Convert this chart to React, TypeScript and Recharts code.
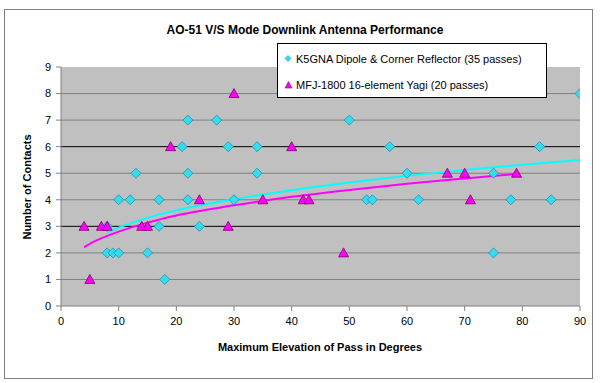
import React from "react"
import {
  ComposedChart,
  Scatter,
  Line,
  XAxis,
  YAxis,
  CartesianGrid,
  ReferenceLine
} from "recharts"

// passes heard with the dipole + corner reflector
const dipoleElev = [8, 9, 10, 15, 18, 8, 10, 12, 17, 13, 17, 21, 22, 22, 22, 27, 29, 34, 34, 30, 24, 50, 57, 60, 53, 54, 62, 90, 83, 75, 78, 85, 75]
const dipoleContacts = [2, 2, 2, 2, 1, 3, 4, 4, 4, 5, 3, 6, 7, 5, 4, 7, 6, 6, 5, 4, 3, 7, 6, 5, 4, 4, 4, 8, 6, 5, 4, 4, 2]

// passes heard with the yagi
const yagiElev = [4, 5, 7, 8, 14, 15, 19, 24, 29, 30, 35, 40, 42, 43, 49, 67, 70, 71, 79]
const yagiContacts = [3, 1, 3, 3, 3, 3, 6, 4, 3, 8, 4, 6, 4, 4, 2, 5, 5, 4, 5]

// trend lines
const dipoleTrendX = [8, 10, 15, 20, 30, 40, 50, 60, 70, 80, 90]
const dipoleTrendY = [2.76, 2.95, 3.32, 3.6, 4.02, 4.36, 4.65, 4.9, 5.12, 5.32, 5.5]
const yagiTrendX = [4, 6, 8, 10, 15, 20, 30, 40, 50, 60, 70, 79]
const yagiTrendY = [2.21, 2.45, 2.64, 2.8, 3.14, 3.41, 3.79, 4.11, 4.37, 4.6, 4.8, 4.97]

const elevTicks = [0, 10, 20, 30, 40, 50, 60, 70, 80, 90]
const contactTicks = [0, 1, 2, 3, 4, 5, 6, 7, 8, 9]
const greyGrid = [1, 2, 4, 5, 7, 8]
const blackGrid = [3, 6]

const dipoleName = "K5GNA Dipole & Corner Reflector (35 passes)"
const yagiName = "MFJ-1800 16-element Yagi (20 passes)"

const toPoints = (xs: number[], ys: number[]) => xs.map((x, i) => ({ x, y: ys[i] }))

const dipoleData = toPoints(dipoleElev, dipoleContacts)
const yagiData = toPoints(yagiElev, yagiContacts)
const dipoleTrend = toPoints(dipoleTrendX, dipoleTrendY)
const yagiTrend = toPoints(yagiTrendX, yagiTrendY)

const font = "'Liberation Sans', Arial, sans-serif"

function Diamond(props: any) {
  const { cx, cy } = props
  const r = 5
  return (
    <polygon
      points={`${cx},${cy - r} ${cx + r},${cy} ${cx},${cy + r} ${cx - r},${cy}`}
      fill="#33DDEE"
      stroke="#2090B0"
      strokeWidth={0.8}
    />
  )
}

function Triangle(props: any) {
  const { cx, cy } = props
  return (
    <polygon
      points={`${cx},${cy - 5} ${cx + 5},${cy + 4} ${cx - 5},${cy + 4}`}
      fill="#FF00FF"
      stroke="#800060"
      strokeWidth={0.8}
    />
  )
}

function LegendBox() {
  return (
    <div
      style={{
        position: "absolute",
        left: 277,
        top: 43,
        width: 270,
        height: 55,
        background: "#fff",
        border: "1px solid #000",
        fontFamily: font,
        fontSize: 11,
        color: "#000",
        boxSizing: "border-box",
        paddingLeft: 6
      }}
    >
      <div style={{ display: "flex", alignItems: "center", height: 28, marginTop: 1 }}>
        <svg width={12} height={10}>
          <polygon points="4,1.5 7,4.5 4,7.5 1,4.5" fill="#33DDEE" stroke="#2090B0" strokeWidth={0.6} />
        </svg>
        <span>{dipoleName}</span>
      </div>
      <div style={{ display: "flex", alignItems: "center", height: 24 }}>
        <svg width={12} height={10}>
          <polygon points="4.5,1.5 8,8 1,8" fill="#FF00FF" stroke="#800060" strokeWidth={0.6} />
        </svg>
        <span>{yagiName}</span>
      </div>
    </div>
  )
}

export default function App() {
  return (
    <div style={{ position: "absolute", left: 0, top: 0, width: 600, height: 383, background: "#fff", fontFamily: font }}>
      <div
        style={{
          position: "absolute",
          left: 4,
          top: 9,
          width: 589,
          height: 370,
          border: "1px solid #808080",
          boxSizing: "border-box"
        }}
      />
      <div
        style={{
          position: "absolute",
          left: 0,
          top: 23,
          width: 610,
          textAlign: "center",
          fontWeight: "bold",
          fontSize: 12
        }}
      >
        AO-51 V/S Mode Downlink Antenna Performance
      </div>

      <ComposedChart
        width={600}
        height={383}
        margin={{ top: 67, right: 20, bottom: 47, left: 31 }}
        style={{ position: "absolute", left: 0, top: 0 }}
      >
        <CartesianGrid
          vertical={false}
          horizontalValues={greyGrid}
          stroke="#808080"
          fill="#C0C0C0"
          fillOpacity={1}
        />
        {blackGrid.map((v) => (
          <ReferenceLine key={v} y={v} stroke="#000" strokeWidth={1} />
        ))}
        <XAxis
          type="number"
          dataKey="x"
          domain={[0, 90]}
          ticks={elevTicks}
          height={30}
          tickSize={5}
          tickMargin={6}
          stroke="#808080"
          tick={{ fill: "#000", fontSize: 11, fontFamily: font }}
          allowDataOverflow
        />
        <YAxis
          type="number"
          domain={[0, 9]}
          ticks={contactTicks}
          width={30}
          tickSize={5}
          tickMargin={5}
          stroke="#808080"
          tick={{ fill: "#000", fontSize: 11, fontFamily: font }}
          allowDataOverflow
        />
        <Line
          data={dipoleTrend}
          dataKey="y"
          type="monotone"
          stroke="#00FFFF"
          strokeWidth={2}
          dot={false}
          isAnimationActive={false}
        />
        <Line
          data={yagiTrend}
          dataKey="y"
          type="monotone"
          stroke="#FF00FF"
          strokeWidth={2}
          dot={false}
          isAnimationActive={false}
        />
        <Scatter name={dipoleName} data={dipoleData} dataKey="y" shape={Diamond} isAnimationActive={false} />
        <Scatter name={yagiName} data={yagiData} dataKey="y" shape={Triangle} isAnimationActive={false} />
      </ComposedChart>

      <LegendBox />

      <div
        style={{
          position: "absolute",
          left: 0,
          top: 341,
          width: 640,
          textAlign: "center",
          fontWeight: "bold",
          fontSize: 11
        }}
      >
        Maximum Elevation of Pass in Degrees
      </div>
      <div
        style={{
          position: "absolute",
          left: 27,
          top: 187,
          transform: "translate(-50%, -50%) rotate(-90deg)",
          whiteSpace: "nowrap",
          fontWeight: "bold",
          fontSize: 11
        }}
      >
        Number of Contacts
      </div>
    </div>
  )
}
